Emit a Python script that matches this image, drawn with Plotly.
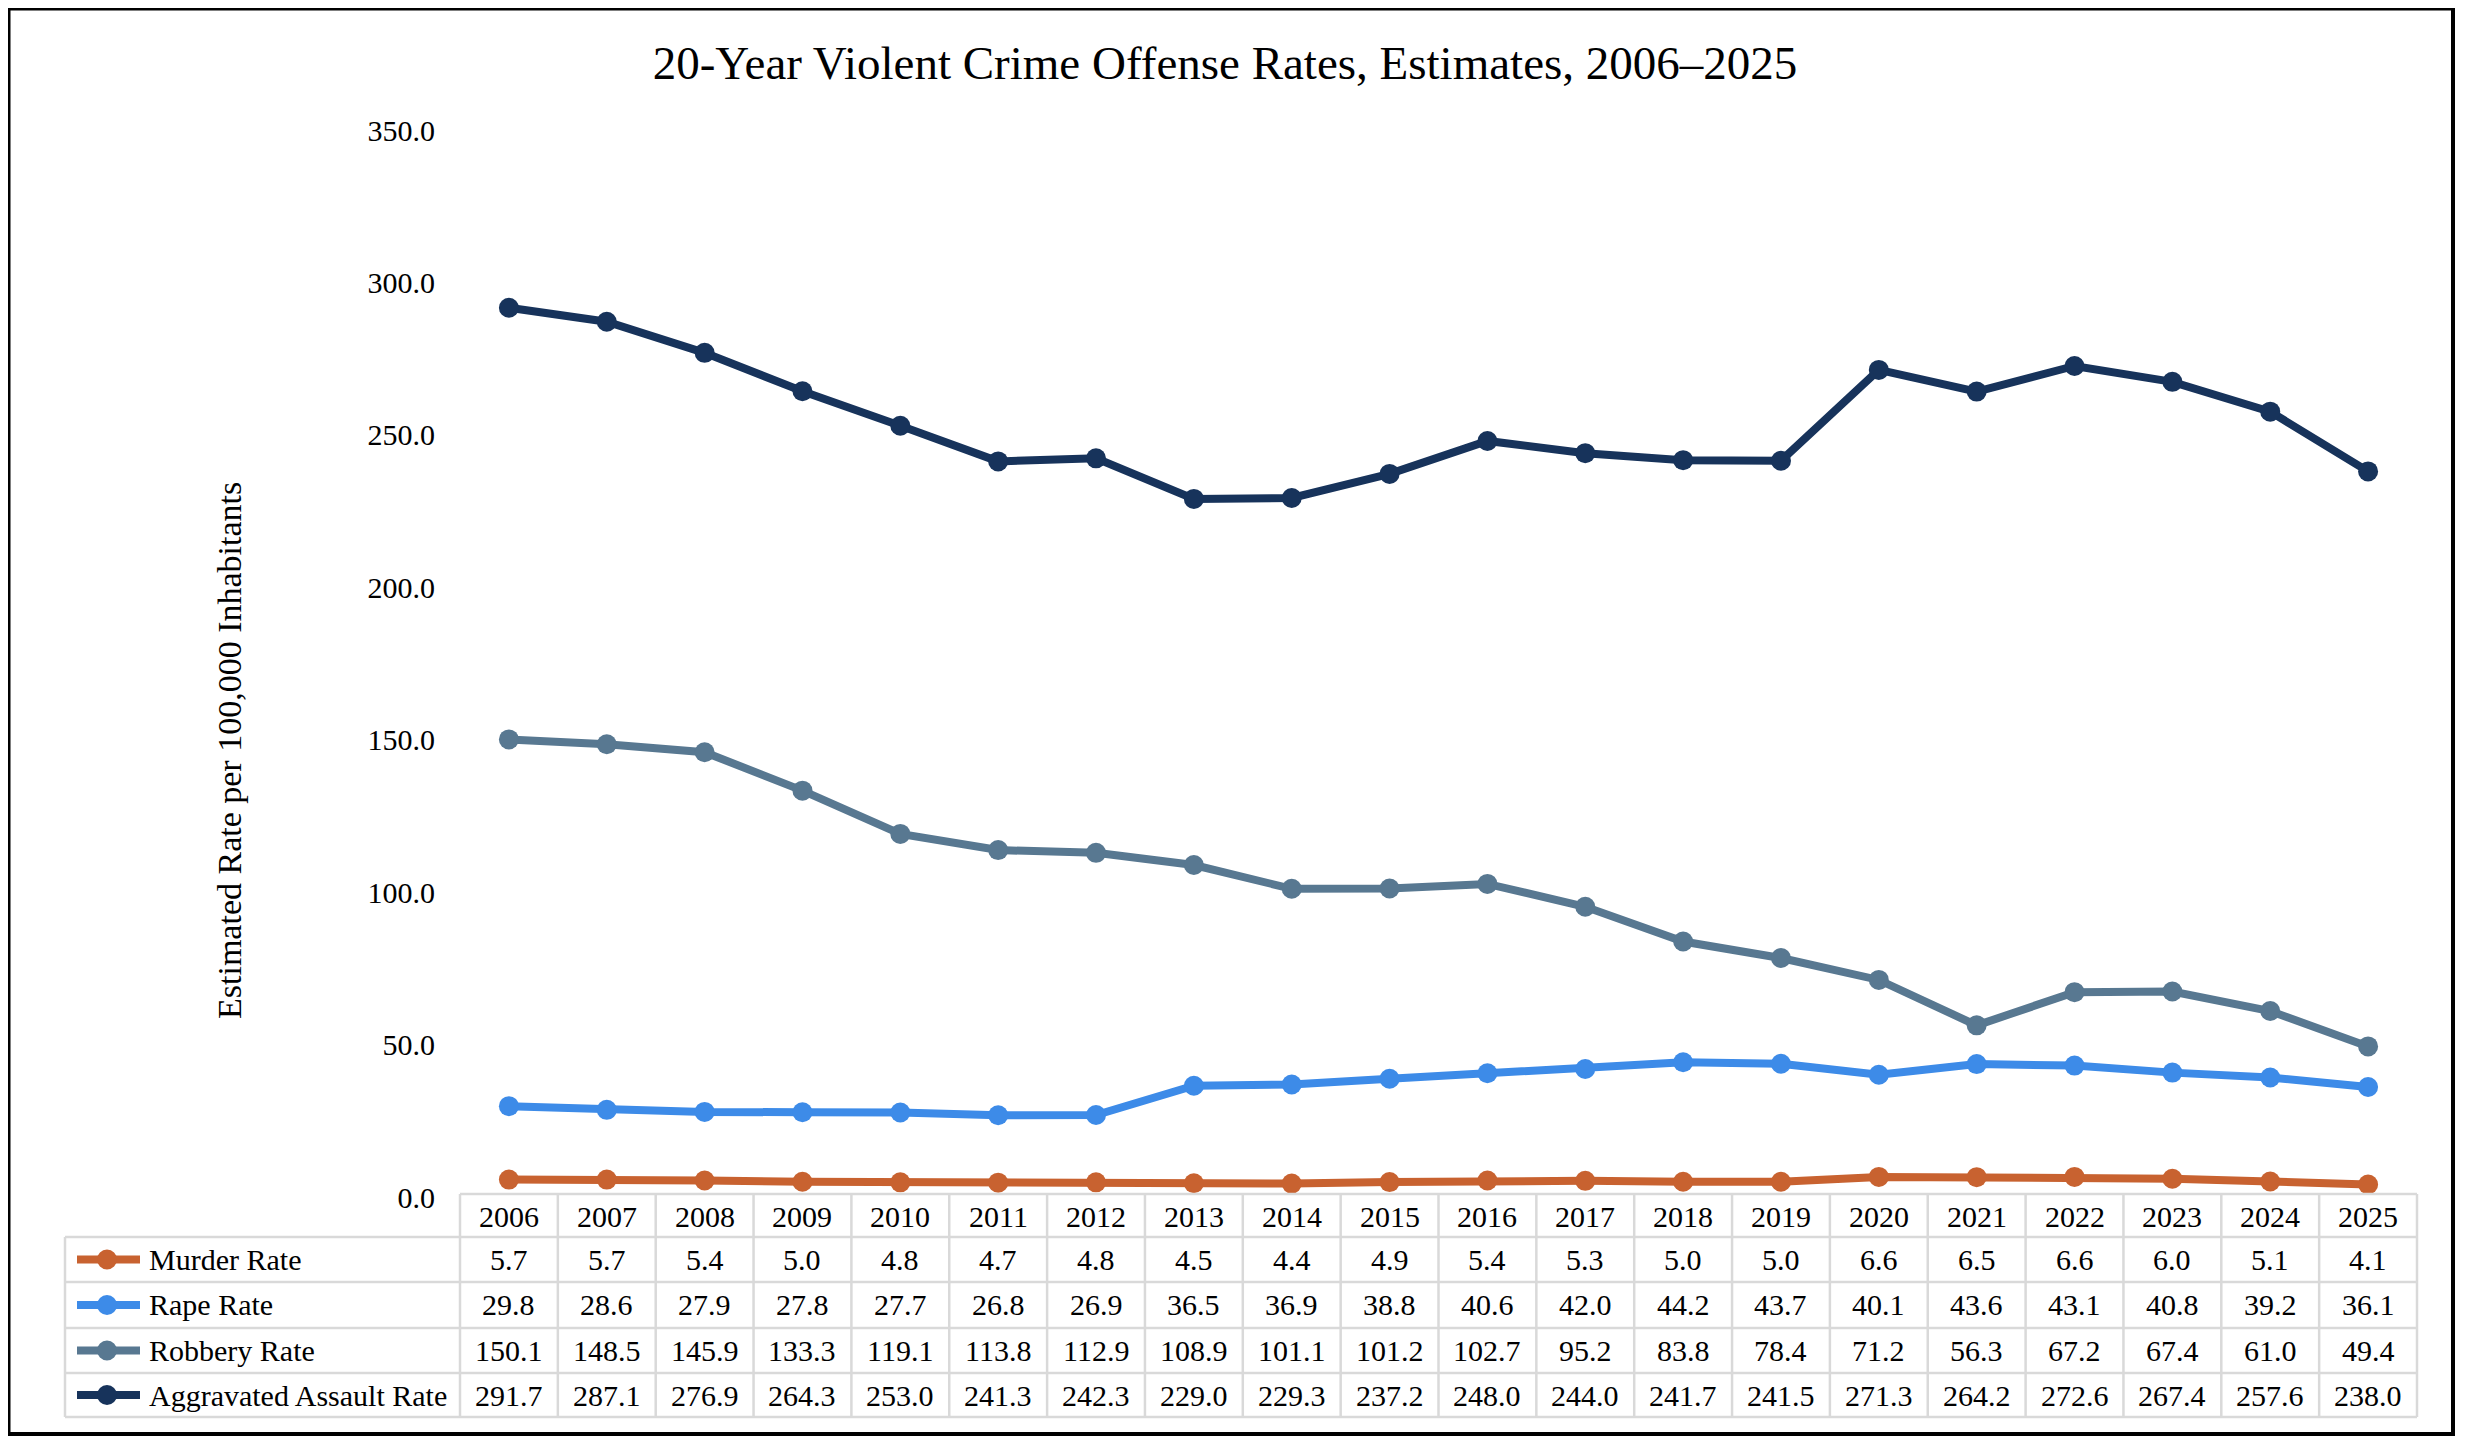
import plotly.graph_objects as go

# Chart data
years = list(range(2006, 2026))
murder = [5.7, 5.7, 5.4, 5.0, 4.8, 4.7, 4.8, 4.5, 4.4, 4.9, 5.4, 5.3, 5.0, 5.0, 6.6, 6.5, 6.6, 6.0, 5.1, 4.1]
rape = [29.8, 28.6, 27.9, 27.8, 27.7, 26.8, 26.9, 36.5, 36.9, 38.8, 40.6, 42.0, 44.2, 43.7, 40.1, 43.6, 43.1, 40.8, 39.2, 36.1]
robbery = [150.1, 148.5, 145.9, 133.3, 119.1, 113.8, 112.9, 108.9, 101.1, 101.2, 102.7, 95.2, 83.8, 78.4, 71.2, 56.3, 67.2, 67.4, 61.0, 49.4]
assault = [291.7, 287.1, 276.9, 264.3, 253.0, 241.3, 242.3, 229.0, 229.3, 237.2, 248.0, 244.0, 241.7, 241.5, 271.3, 264.2, 272.6, 267.4, 257.6, 238.0]
series_names = ["Murder Rate", "Rape Rate", "Robbery Rate", "Aggravated Assault Rate"]
series_values = [murder, rape, robbery, assault]
colors = ["#C86230", "#3D8BE8", "#587891", "#17335B"]
y_ticks = [0, 50, 100, 150, 200, 250, 300, 350]

# page body has an 8px margin, so the figure is shifted by OFF
OFF = 8
W, H = 2450, 1430
L, R, T, B = 452, 41, 122, 241
FONT = "Liberation Serif, Times New Roman, serif"
GRID = "#D9D9D9"


def px(xp):
    # screen pixel -> paper x
    return (xp - OFF - L) / (W - L - R)


def py(yp):
    # screen pixel -> paper y
    return (H - B - (yp - OFF)) / (H - T - B)


fig = go.Figure()

for name, vals, col in zip(series_names, series_values, colors):
    fig.add_trace(go.Scatter(x=years, y=vals, name=name, mode="lines+markers",
                             line=dict(color=col, width=8),
                             marker=dict(color=col, size=20),
                             cliponaxis=False, showlegend=False))

shapes = []
annotations = []
txt = dict(family=FONT, size=30, color="black")

# table lines
row_edges = [1237, 1282, 1328, 1373, 1417]
row_centers = [(a + b) / 2 for a, b in zip(row_edges[:-1], row_edges[1:])]
header_top, header_mid = 1194, 1216
line = dict(color=GRID, width=2.5)
shapes.append(dict(type="line", xref="paper", yref="paper", x0=0, x1=1,
                   y0=py(header_top), y1=py(header_top), line=line))
for ye in row_edges:
    shapes.append(dict(type="line", xref="paper", yref="paper", x0=px(65), x1=1,
                       y0=py(ye), y1=py(ye), line=line))
shapes.append(dict(type="line", xref="paper", yref="paper", x0=px(65), x1=px(65),
                   y0=py(1237), y1=py(1417), line=line))
for xe in [0, 1]:
    shapes.append(dict(type="line", xref="paper", yref="paper", x0=xe, x1=xe,
                       y0=py(header_top), y1=py(1417), line=line))
for yr in years[1:]:
    shapes.append(dict(type="line", xref="x", yref="paper", x0=yr - 0.5, x1=yr - 0.5,
                       y0=py(header_top), y1=py(1417), line=line))

# header years
for yr in years:
    annotations.append(dict(x=yr, y=py(header_mid), xref="x", yref="paper", text=str(yr),
                            xanchor="center", yanchor="middle", showarrow=False, font=txt))

# rows: legend keys, labels, values
for name, vals, col, yc in zip(series_names, series_values, colors, row_centers):
    shapes.append(dict(type="line", xref="paper", yref="paper", x0=px(77), x1=px(140),
                       y0=py(yc), y1=py(yc), line=dict(color=col, width=8)))
    shapes.append(dict(type="circle", xref="paper", yref="paper", xsizemode="pixel",
                       ysizemode="pixel", xanchor=px(107), yanchor=py(yc),
                       x0=-10, x1=10, y0=-10, y1=10, fillcolor=col, line=dict(width=0)))
    annotations.append(dict(x=px(147), y=py(yc), xref="paper", yref="paper", text=name,
                            xanchor="left", yanchor="middle", showarrow=False, font=txt))
    for yr, v in zip(years, vals):
        annotations.append(dict(x=yr, y=py(yc), xref="x", yref="paper", text=f"{v:.1f}",
                                xanchor="center", yanchor="middle", showarrow=False, font=txt))

# y axis title
annotations.append(dict(x=px(229), y=py(751), xref="paper", yref="paper",
                        text="Estimated Rate per 100,000 Inhabitants", textangle=-90,
                        xanchor="center", yanchor="middle", showarrow=False,
                        font=dict(family=FONT, size=34, color="black")))

# outer border
shapes.append(dict(type="rect", xref="paper", yref="paper", x0=px(8.5), x1=px(2453),
                   y0=py(8.5), y1=py(1434), line=dict(color="black", width=4)))

fig.update_layout(
    width=W, height=H,
    margin=dict(l=L, r=R, t=T, b=B),
    paper_bgcolor="white", plot_bgcolor="white",
    title=dict(text="20-Year Violent Crime Offense Rates, Estimates, 2006–2025",
               x=(1225 - OFF) / W, xanchor="center", y=1 - (63 - OFF) / H, yanchor="middle",
               font=dict(family=FONT, size=47, color="black")),
    xaxis=dict(range=[years[0] - 0.5, years[-1] + 0.5],
               showticklabels=False, showgrid=False, zeroline=False, showline=False),
    yaxis=dict(range=[0, 350], tickvals=y_ticks, tickformat=".1f", showgrid=False,
               zeroline=False, showline=False, ticklabelstandoff=24,
               tickfont=dict(family=FONT, size=30, color="black")),
    shapes=shapes, annotations=annotations,
    font=dict(family=FONT),
)

fig.write_html("out.html")
